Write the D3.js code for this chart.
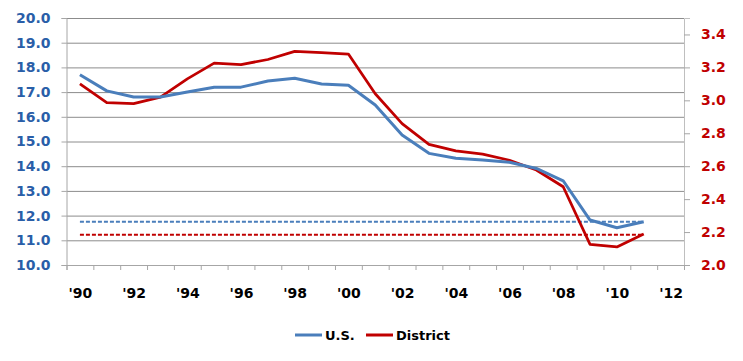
<!DOCTYPE html>
<html>
<head>
<meta charset="utf-8">
<script src="https://cdn.jsdelivr.net/npm/d3@7"></script>
<style>
  body { margin: 0; background: #fff; }
  svg text { font-family: "DejaVu Sans", sans-serif; font-weight: bold; }
</style>
</head>
<body>
<div id="chart"></div>
<script>
// data
const years = d3.range(1990, 2012);
const usValues = [17.7, 17.05, 16.8, 16.8, 17.0, 17.2, 17.2, 17.45, 17.56, 17.33, 17.28,
                  16.48, 15.26, 14.52, 14.32, 14.25, 14.16, 13.91, 13.41, 11.82, 11.51, 11.75];
const districtValues = [3.10, 2.986, 2.98, 3.02, 3.13, 3.226, 3.217, 3.248, 3.297, 3.289, 3.281,
                        3.04, 2.859, 2.733, 2.693, 2.673, 2.636, 2.577, 2.475, 2.125, 2.11, 2.188];
const usLatest = 11.75;
const districtLatest = 2.183;
const leftTicks = [10, 11, 12, 13, 14, 15, 16, 17, 18, 19, 20];
const rightTicks = [2.0, 2.2, 2.4, 2.6, 2.8, 3.0, 3.2, 3.4];
const labelYears = [1990, 1992, 1994, 1996, 1998, 2000, 2002, 2004, 2006, 2008, 2010, 2012];

const W = 743, H = 361;
const plot = {left: 66.5, right: 684, top: 18, bottom: 265};

const svg = d3.select("#chart").append("svg")
  .attr("width", W).attr("height", H);

const x = d3.scaleLinear().domain([1989.5, 2012.5]).range([plot.left, plot.right]);
const yL = d3.scaleLinear().domain([10, 20]).range([plot.bottom, plot.top]);
const yR = d3.scaleLinear().domain([2.0, 3.5]).range([plot.bottom, plot.top]);

// gridlines
svg.append("g")
  .attr("transform", `translate(${plot.left},0)`)
  .call(d3.axisLeft(yL).tickValues(leftTicks.slice(1)).tickSize(-(plot.right - plot.left)).tickFormat(""))
  .call(g => g.select(".domain").remove())
  .call(g => g.selectAll("line").attr("stroke", "#8c8c8c").attr("stroke-width", 1));

// left axis
svg.append("g")
  .attr("transform", `translate(${plot.left},0)`)
  .call(d3.axisLeft(yL).tickValues(leftTicks).tickSize(5).tickPadding(11).tickFormat(d3.format(".1f")))
  .call(g => g.select(".domain").attr("stroke", "#a6a6a6"))
  .call(g => g.selectAll("line").attr("stroke", "#a6a6a6"))
  .call(g => g.selectAll("text").attr("fill", "#2a5ea8").style("font-size", "14px"));

// right axis
svg.append("g")
  .attr("transform", `translate(${plot.right},0)`)
  .call(d3.axisRight(yR).tickValues(rightTicks).tickSize(6).tickPadding(11).tickFormat(d3.format(".1f")))
  .call(g => g.select(".domain").attr("stroke", "#bfbfbf"))
  .call(g => g.selectAll("line").attr("stroke", "#a6a6a6"))
  .call(g => g.selectAll("text").attr("fill", "#c00000").style("font-size", "14px"));

// bottom axis: ticks on category boundaries, labels on even years
const bounds = d3.range(1989.5, 2013, 1);
svg.append("g")
  .attr("transform", `translate(0,${plot.bottom})`)
  .call(d3.axisBottom(x).tickValues(bounds).tickSize(5).tickFormat(""))
  .call(g => g.select(".domain").attr("stroke", "#a6a6a6"))
  .call(g => g.selectAll("line").attr("stroke", "#a6a6a6"));

svg.append("g")
  .attr("transform", `translate(0,${plot.bottom})`)
  .call(d3.axisBottom(x).tickValues(labelYears).tickSize(0).tickPadding(23)
    .tickFormat(d => "'" + String(d).slice(2)))
  .call(g => g.select(".domain").remove())
  .call(g => g.selectAll("text").attr("fill", "#000").style("font-size", "14px"));

// latest-value reference lines (dashed)
const first = years[0], last = years[years.length - 1];
svg.append("line")
  .attr("x1", x(first)).attr("x2", x(last))
  .attr("y1", yL(usLatest)).attr("y2", yL(usLatest))
  .attr("stroke", "#4a7ebb").attr("stroke-width", 2).attr("stroke-dasharray", "4,2");
svg.append("line")
  .attr("x1", x(first)).attr("x2", x(last))
  .attr("y1", yR(districtLatest)).attr("y2", yR(districtLatest))
  .attr("stroke", "#c00000").attr("stroke-width", 2).attr("stroke-dasharray", "4,2");

// series lines
const usLine = d3.line().x((d, i) => x(years[i])).y(d => yL(d));
const distLine = d3.line().x((d, i) => x(years[i])).y(d => yR(d));

svg.append("path").datum(districtValues)
  .attr("d", distLine).attr("fill", "none")
  .attr("stroke", "#c00000").attr("stroke-width", 2.75).attr("stroke-linejoin", "round");
svg.append("path").datum(usValues)
  .attr("d", usLine).attr("fill", "none")
  .attr("stroke", "#4a7ebb").attr("stroke-width", 3).attr("stroke-linejoin", "round");

// legend
const legend = svg.append("g").attr("transform", "translate(0,335)");
const items = [
  {name: "U.S.", color: "#4a7ebb", x: 295},
  {name: "District", color: "#c00000", x: 366}
];
items.forEach(it => {
  legend.append("line")
    .attr("x1", it.x).attr("x2", it.x + 27).attr("y1", 0).attr("y2", 0)
    .attr("stroke", it.color).attr("stroke-width", 3);
  legend.append("text")
    .attr("x", it.x + 30).attr("y", 0).attr("dy", "0.35em")
    .style("font-size", "13px").attr("fill", "#000")
    .text(it.name);
});
</script>
</body>
</html>
